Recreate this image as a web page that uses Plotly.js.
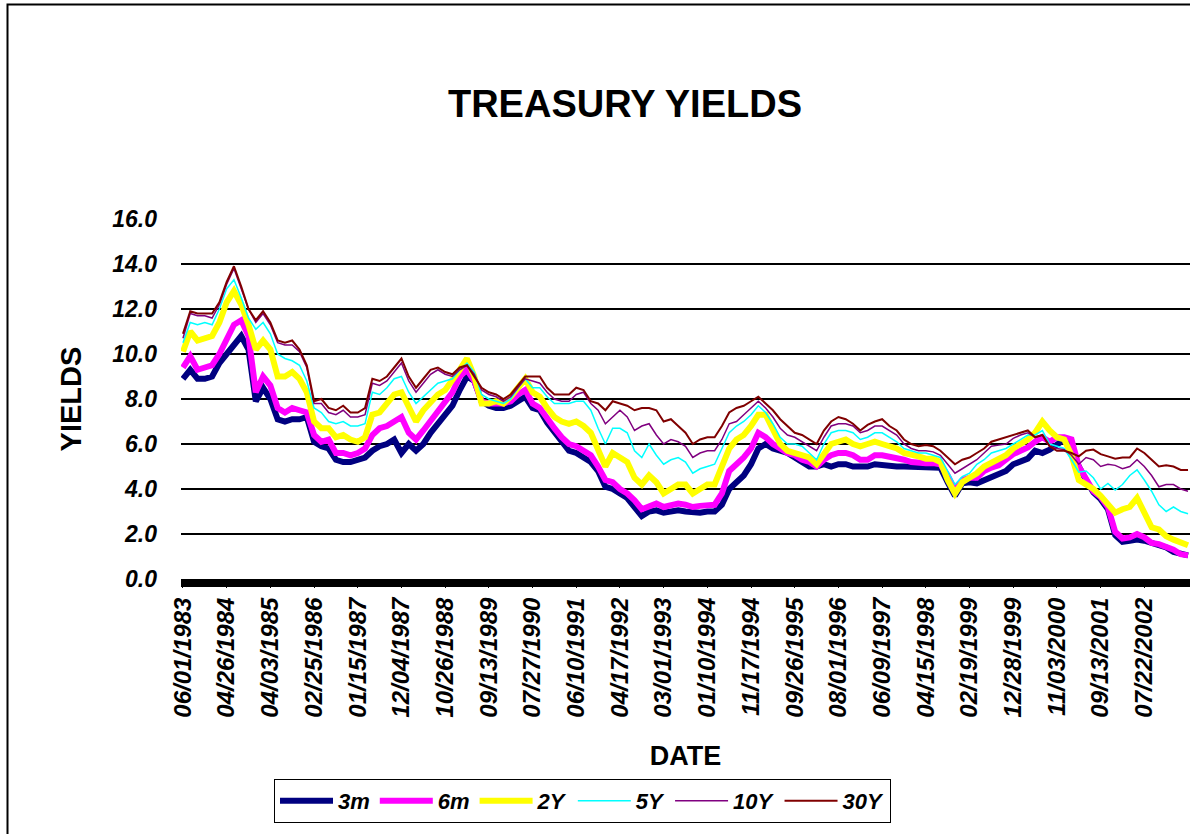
<!DOCTYPE html>
<html><head><meta charset="utf-8">
<script src="https://cdn.plot.ly/plotly-3.0.1.min.js"></script>
<style>html,body{margin:0;padding:0;background:#fff;}#chart{width:1190px;height:834px;}</style>
</head><body><div id="chart"></div>
<script>
const dates = ["06/01/1983","07/26/1983","09/19/1983","11/11/1983","01/05/1984","03/01/1984","04/26/1984","06/22/1984","08/17/1984","10/15/1984","12/10/1984","02/05/1985","04/03/1985","05/28/1985","07/22/1985","09/16/1985","11/08/1985","01/03/1986","02/25/1986","04/21/1986","06/13/1986","08/07/1986","09/30/1986","11/21/1986","01/15/1987","03/10/1987","05/01/1987","06/25/1987","08/18/1987","10/09/1987","12/04/1987","01/27/1988","03/22/1988","05/16/1988","07/08/1988","09/01/1988","10/26/1988","12/19/1988","02/10/1989","04/05/1989","05/30/1989","07/21/1989","09/13/1989","11/03/1989","12/27/1989","02/20/1990","04/13/1990","06/05/1990","07/27/1990","09/18/1990","11/09/1990","01/03/1991","02/26/1991","04/18/1991","06/10/1991","07/31/1991","09/20/1991","11/12/1991","01/06/1992","02/26/1992","04/17/1992","06/09/1992","07/31/1992","09/23/1992","11/13/1992","01/06/1993","03/01/1993","04/22/1993","06/14/1993","08/05/1993","09/27/1993","11/18/1993","01/10/1994","03/03/1994","04/25/1994","06/15/1994","08/05/1994","09/27/1994","11/17/1994","01/09/1995","03/02/1995","04/24/1995","06/14/1995","08/04/1995","09/26/1995","11/16/1995","01/08/1996","02/28/1996","04/19/1996","06/10/1996","08/01/1996","09/20/1996","11/11/1996","01/02/1997","02/24/1997","04/17/1997","06/09/1997","07/30/1997","09/19/1997","11/10/1997","12/31/1997","02/23/1998","04/15/1998","06/05/1998","07/27/1998","09/17/1998","11/06/1998","12/29/1998","02/19/1999","04/12/1999","06/03/1999","07/26/1999","09/15/1999","11/05/1999","12/28/1999","02/18/2000","04/10/2000","06/01/2000","07/24/2000","09/13/2000","11/03/2000","12/26/2000","02/16/2001","04/09/2001","05/31/2001","07/23/2001","09/13/2001","11/05/2001","12/27/2001","02/18/2002","04/10/2002","05/31/2002","07/22/2002","09/12/2002","11/01/2002","12/23/2002","02/14/2003","04/07/2003","05/29/2003"];

const tickLabels = ["06/01/1983","04/26/1984","04/03/1985","02/25/1986","01/15/1987","12/04/1987","10/26/1988","09/13/1989","07/27/1990","06/10/1991","04/17/1992","03/01/1993","01/10/1994","11/17/1994","09/26/1995","08/01/1996","06/09/1997","04/15/1998","02/19/1999","12/28/1999","11/03/2000","09/13/2001","07/22/2002"];

const y3m = [8.9,9.3,8.9,8.9,9.0,9.6,10.0,10.4,10.8,10.2,7.9,8.5,8.0,7.1,7.0,7.1,7.1,7.2,6.1,5.9,5.8,5.3,5.2,5.2,5.3,5.4,5.7,5.9,
6.0,
6.2,5.6,6.0,5.7,6.0,6.5,6.9,7.4,7.7,8.4,9.0,8.8,7.9,7.7,7.6,7.6,7.7,7.9,8.1,7.6,7.5,6.95,6.5,6.1,5.7,5.6,5.4,5.2,4.8,4.1,4.0,3.8,3.6,3.2,2.8,3.0,3.05,2.95,3.0,3.05,3.0,2.95,
2.95,
3.0,3.0,3.3,4.0,4.3,4.6,5.1,5.8,6.0,5.8,5.7,5.6,5.4,5.2,5.0,5.0,5.1,5.0,5.1,5.1,5.0,5.0,5.0,5.1,5.05,5.0,5.0,5.0,5.0,5.0,5.0,5.0,4.95,4.3,3.7,4.25,4.3,4.25,4.4,4.55,4.7,4.8,5.1,
5.2,
5.35,5.7,5.6,5.75,6.0,6.2,5.9,5.0,4.4,3.85,3.55,3.1,1.95,1.65,1.7,1.75,1.7,1.6,1.55,1.4,1.2,1.15,1.05];

const y6m = [9.4,9.9,9.3,9.4,9.5,10.0,10.6,11.3,11.5,10.8,8.3,9.0,8.6,7.6,7.4,7.6,7.5,7.4,6.4,6.1,6.2,5.6,5.6,5.5,5.6,5.8,6.4,6.7,
6.8,
7.0,7.2,6.5,6.2,6.6,7.0,7.5,7.8,8.3,9.0,9.3,8.8,7.9,7.8,7.8,7.8,7.9,8.2,8.4,7.8,7.6,7.1,6.7,6.3,6.0,5.9,5.7,5.5,5.0,4.4,4.3,4.0,3.8,3.5,3.1,3.2,3.35,3.2,3.3,3.35,3.3,3.2,
3.25,
3.3,3.3,3.8,4.8,5.1,5.4,5.8,6.5,6.3,6.0,5.8,5.6,5.5,5.3,5.2,5.0,5.3,5.5,5.6,5.6,5.5,5.3,5.3,5.5,5.5,5.45,5.4,5.3,5.2,5.15,5.15,5.15,5.1,4.6,3.95,4.4,4.5,4.5,4.8,4.95,5.05,5.3,5.55,
5.7,
5.85,6.1,6.3,6.1,6.3,6.3,6.2,5.0,4.4,3.9,3.65,3.2,2.1,1.8,1.85,2.0,1.85,1.6,1.55,1.45,1.3,1.1,1.05];

const y2y = [10.1,11.0,10.6,10.7,10.8,11.4,12.3,12.8,12.2,11.3,10.2,10.6,10.2,9.0,9.0,9.2,8.9,8.3,7.0,6.7,6.7,6.3,6.4,6.2,6.1,6.3,7.3,7.4,
7.8,
8.2,8.3,7.6,7.0,7.5,7.9,8.2,8.4,8.8,9.3,9.8,9.0,7.8,7.8,7.9,7.8,8.1,8.5,8.9,8.3,8.1,7.6,7.2,7.0,6.9,7.0,6.8,6.5,5.8,5.0,5.6,5.4,5.2,4.5,4.2,4.6,4.3,3.8,4.0,4.2,4.2,3.8,
4.0,
4.2,4.2,5.0,5.8,6.2,6.4,6.8,7.3,7.3,6.6,6.0,5.7,5.6,5.5,5.4,5.1,5.6,6.0,6.1,6.2,6.0,5.9,6.0,6.1,6.0,5.9,5.8,5.6,5.55,5.45,5.35,5.35,5.2,4.4,3.8,4.3,4.5,4.7,5.0,5.15,5.35,5.5,5.8,
6.0,
6.2,6.5,7.0,6.6,6.3,6.2,5.5,4.4,4.2,4.0,3.7,3.3,2.95,3.1,3.2,3.6,3.0,2.3,2.2,1.9,1.75,1.6,1.5];

const y5y = [10.5,11.4,11.3,11.4,11.3,12.0,12.9,13.3,12.5,11.6,11.1,11.4,10.9,10.0,9.8,9.7,9.5,8.8,7.6,7.4,7.0,6.9,7.0,6.8,6.8,6.9,8.3,8.2,
8.5,
8.9,9.0,8.3,7.8,8.1,8.4,8.7,8.8,8.9,9.3,9.6,9.2,8.2,8.0,7.9,7.8,8.0,8.5,8.9,8.5,8.5,8.1,7.8,7.8,7.8,7.9,7.9,7.5,6.7,6.0,6.7,6.7,6.5,5.7,5.4,6.0,5.5,5.1,5.3,5.4,5.2,4.7,
4.9,
5.0,5.1,5.8,6.5,6.8,7.0,7.3,7.7,7.4,6.9,6.3,6.0,6.0,5.9,5.6,5.3,6.0,6.5,6.6,6.6,6.5,6.2,6.3,6.5,6.5,6.3,6.1,5.8,5.7,5.6,5.6,5.5,5.4,4.8,4.2,4.55,4.7,5.1,5.3,5.6,5.7,5.8,6.0,
6.2,
6.4,6.4,6.6,6.0,5.9,5.8,5.3,4.75,4.8,4.5,4.0,4.25,3.95,4.2,4.6,4.85,4.4,3.9,3.3,3.0,3.2,3.0,2.9];

const y10y = [10.7,11.8,11.7,11.7,11.6,12.2,13.1,13.8,12.9,12.0,11.4,11.8,11.3,10.5,10.4,10.4,10.1,9.4,7.8,7.8,7.4,7.3,7.5,7.2,7.2,7.3,8.7,8.6,
8.8,
9.2,9.6,8.8,8.3,8.7,9.1,9.3,9.1,9.0,9.3,9.5,9.1,8.4,8.2,8.1,7.9,8.1,8.5,8.9,8.8,8.7,8.3,8.0,7.9,7.9,8.2,8.3,7.8,7.5,6.9,7.2,7.5,7.2,6.6,6.8,6.9,6.4,6.0,6.2,6.1,5.9,5.4,
5.6,
5.7,5.7,6.2,6.9,7.0,7.3,7.6,7.9,7.6,7.2,6.7,6.4,6.3,6.1,5.9,5.7,6.3,6.8,6.9,6.9,6.8,6.5,6.6,6.8,6.8,6.6,6.4,6.0,5.8,5.7,5.7,5.65,5.5,5.1,4.7,4.9,5.1,5.3,5.6,5.9,5.95,6.0,6.25,
6.4,
6.5,6.3,6.4,5.9,5.8,5.75,5.5,5.1,5.4,5.3,5.0,5.1,5.05,4.9,5.0,5.3,5.0,4.6,4.1,4.2,4.2,4.0,3.9];

const y30y = [10.9,11.9,11.8,11.8,11.8,12.3,13.2,13.9,13.0,12.0,11.5,11.9,11.4,10.6,10.5,10.6,10.2,9.5,7.9,8.0,7.6,7.5,7.7,7.4,7.4,7.6,8.9,8.8,
9.0,
9.4,9.8,9.0,8.5,8.9,9.3,9.4,9.2,9.1,9.4,9.5,9.0,8.5,8.3,8.2,8.0,8.2,8.6,9.0,9.0,9.0,8.5,8.2,8.2,8.2,8.5,8.4,7.9,7.8,7.5,7.9,7.8,7.7,7.5,7.6,7.6,7.5,7.0,7.1,6.8,6.5,6.0,
6.2,
6.3,6.3,6.8,7.4,7.6,7.7,7.9,8.1,7.8,7.5,7.1,6.8,6.5,6.4,6.2,6.0,6.6,7.0,7.2,7.1,6.9,6.6,6.85,7.0,7.1,6.8,6.6,6.2,6.0,5.9,5.95,5.9,5.7,5.4,5.1,5.3,5.4,5.6,5.8,6.1,6.2,6.3,6.4,
6.5,
6.6,6.3,6.4,5.9,5.7,5.7,5.6,5.45,5.7,5.75,5.55,5.45,5.35,5.4,5.4,5.8,5.6,5.3,5.0,5.05,5.0,4.85,4.85];

const seriesNames = ["3m","6m","2Y","5Y","10Y","30Y"];
const seriesData = [y3m, y6m, y2y, y5y, y10y, y30y];
const seriesColors = ["#000080","#FF00FF","#FFFF00","#00FFFF","#800080","#800000"];
const seriesWidths = [6, 6, 6, 1.5, 1.5, 2];

const FONT = "Liberation Sans, Arial, Helvetica, sans-serif";

const traces = seriesNames.map((name, i) => ({
  type: "scatter", mode: "lines", name: name,
  x: dates, y: seriesData[i],
  line: {color: seriesColors[i], width: seriesWidths[i]},
  hoverinfo: "skip"
}));

// plot-area geometry in px: left 181, right 1190, top 219, bottom 579
const L = 181, R = 1190, T = 219, B = 579;
const px = v => (v - L) / (R - L);
const py = v => (B - v) / (B - T);

const layout = {
  width: 1190, height: 834,
  margin: {l: L, r: 1190 - R, t: T, b: 834 - B, pad: 0},
  paper_bgcolor: "#ffffff", plot_bgcolor: "#ffffff",
  font: {family: FONT, color: "#000000"},
  title: {
    text: "TREASURY YIELDS",
    font: {family: FONT, size: 38, weight: "bold", color: "#000000"},
    xref: "container", yref: "container",
    x: 625 / 1190, xanchor: "center",
    y: 1 - 104 / 834, yanchor: "middle"
  },
  xaxis: {
    type: "category",
    range: [-0.27, 138.27],
    tickmode: "array", tickvals: tickLabels, ticktext: tickLabels,
    tickangle: -90,
    ticks: "outside", ticklen: 8, tickwidth: 1, tickcolor: "#000000",
    tickfont: {family: FONT, size: 24, weight: "bold", style: "italic", color: "#000000"},
    showgrid: false, zeroline: false, showline: false,
    title: {text: "DATE", font: {family: FONT, size: 27, weight: "bold", color: "#000000"}, standoff: 29},
    fixedrange: true
  },
  yaxis: {
    range: [0, 16], tick0: 0, dtick: 2, tickformat: ".1f",
    showgrid: true, gridcolor: "#000000", gridwidth: 2,
    zeroline: false, showline: false, ticks: "",
    ticklabelstandoff: 23,
    tickfont: {family: FONT, size: 23, weight: "bold", style: "italic", color: "#000000"},
    title: {text: "YIELDS", font: {family: FONT, size: 29, weight: "bold", color: "#000000"}, standoff: 22},
    fixedrange: true
  },
  showlegend: true,
  legend: {
    orientation: "h",
    x: px(274), y: py(779), xanchor: "left", yanchor: "top",
    bgcolor: "#ffffff", bordercolor: "#000000", borderwidth: 1,
    font: {family: FONT, size: 22, weight: "bold", style: "italic", color: "#000000"},
    itemwidth: 53, traceorder: "normal"
  },
  shapes: [
    {type: "rect", xref: "paper", yref: "paper", x0: 0, x1: 1, y0: py(587), y1: py(579),
     fillcolor: "#000000", line: {width: 0}, layer: "above"},
    {type: "path", xref: "paper", yref: "paper",
     path: "M " + px(7.5) + "," + py(840) + " L " + px(7.5) + "," + py(4.5) + " L " + px(1195) + "," + py(4.5),
     line: {color: "#000000", width: 2}}
  ]
};

Plotly.newPlot("chart", traces, layout, {displayModeBar: false, staticPlot: true});
</script>
</body></html>
